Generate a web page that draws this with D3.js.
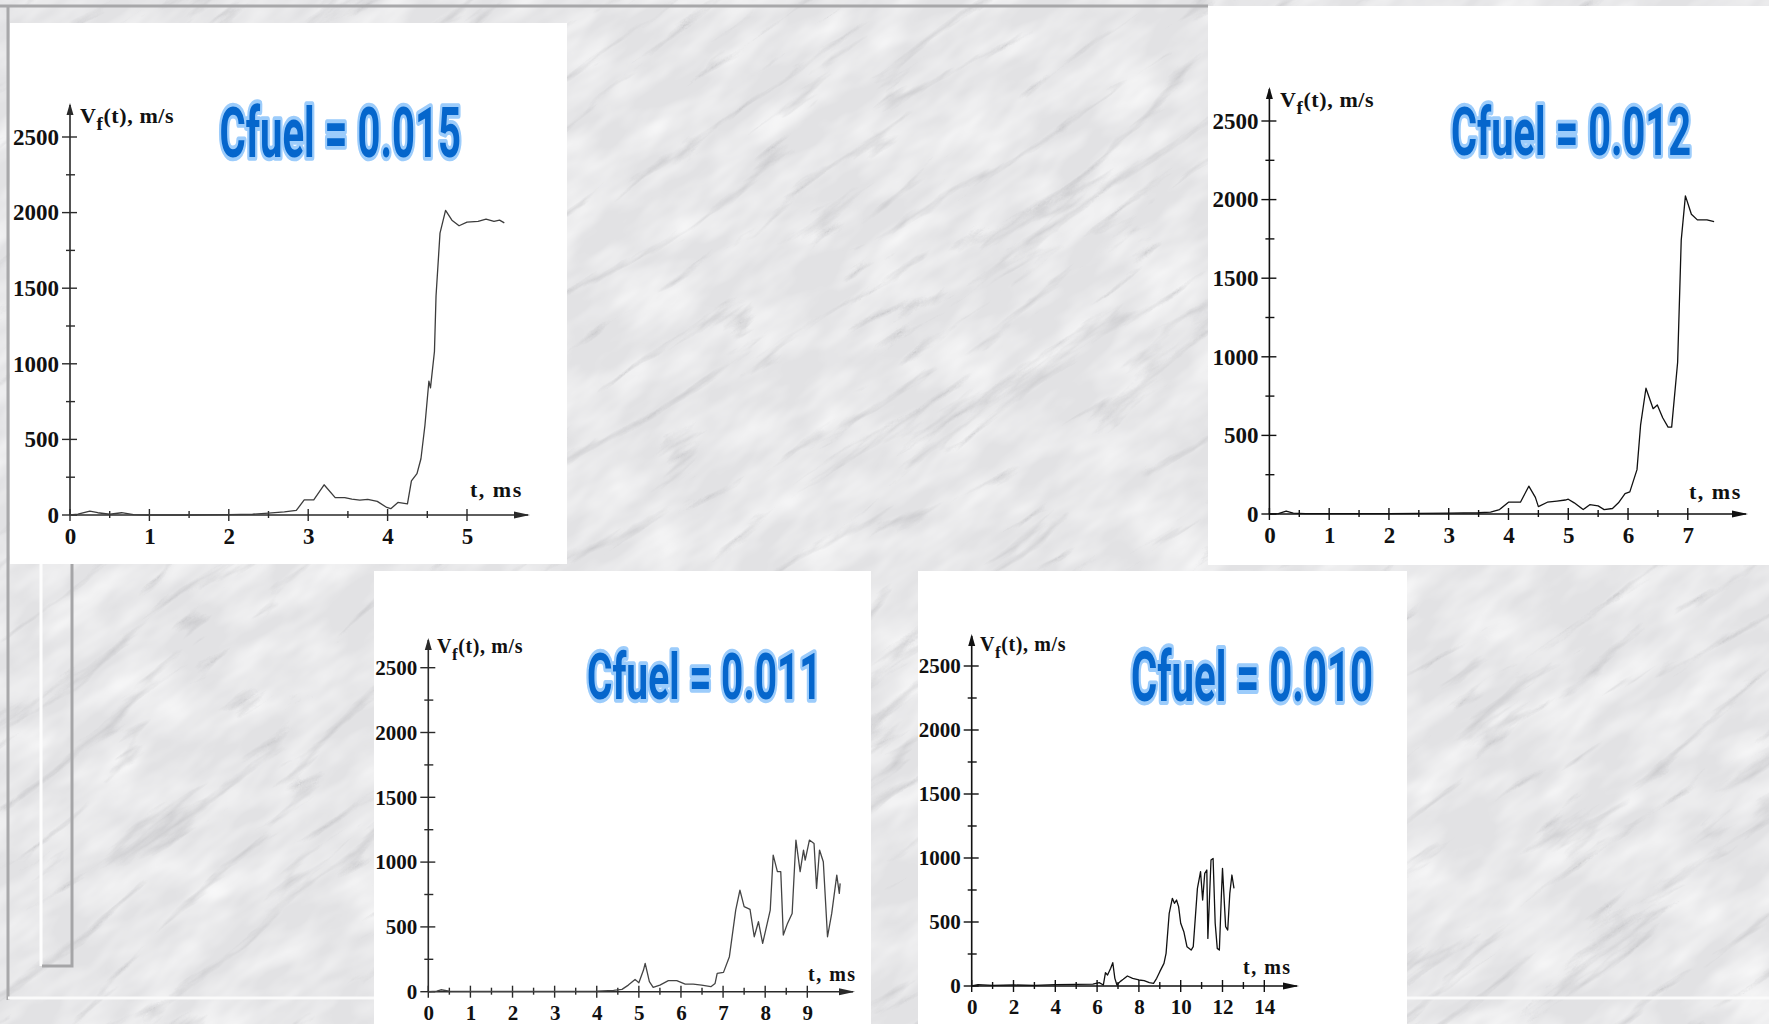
<!DOCTYPE html>
<meta charset="utf-8">
<body>
<style>
body { margin: 0; overflow: hidden; background: #e9e9eb; }
text { font-family: "Liberation Serif", "Times New Roman", serif; font-weight: bold; fill: #111; }
.title { font-family: Roboto, "Liberation Sans", sans-serif; font-weight: bold; fill: #0566cc; stroke: #9cccfb; stroke-width: 8px; stroke-linejoin: round; paint-order: stroke; }
</style>
<script src="https://d3js.org/d3.v7.min.js"></script>
<script>

// values, one pair of arrays per plot
var t015 = [0, 0.1, 0.25, 0.35, 0.5, 0.65, 0.8, 1.0, 1.5, 2.0, 2.3, 2.5, 2.7, 2.85, 2.95, 3.07, 3.2, 3.34, 3.46, 3.55, 3.65, 3.75, 3.87, 3.99, 4.04, 4.13, 4.25, 4.3, 4.37, 4.42, 4.47, 4.52, 4.54, 4.59, 4.61, 4.66, 4.73, 4.81, 4.9, 5.0, 5.14, 5.24, 5.34, 5.41, 5.47];
var v015 = [0, 5, 25, 15, 5, 15, 3, 0, 0, 2, 5, 12, 20, 30, 100, 100, 200, 115, 115, 105, 98, 103, 90, 50, 42, 83, 73, 225, 274, 372, 592, 885, 841, 1081, 1448, 1864, 2015, 1950, 1913, 1937, 1942, 1957, 1942, 1950, 1932];

var t012 = [0, 0.15, 0.28, 0.4, 0.6, 1.0, 2.0, 3.0, 3.5, 3.7, 3.85, 4.0, 4.2, 4.34, 4.45, 4.5, 4.65, 4.81, 4.95, 5.0, 5.1, 5.25, 5.36, 5.5, 5.6, 5.74, 5.84, 5.95, 6.03, 6.15, 6.21, 6.3, 6.42, 6.49, 6.58, 6.67, 6.73, 6.83, 6.89, 6.96, 7.06, 7.16, 7.32, 7.44];
var v012 = [0, 2, 19, 5, 3, 2, 3, 6, 8, 12, 28, 75, 75, 177, 106, 47, 75, 82, 89, 94, 71, 28, 59, 52, 28, 35, 71, 130, 141, 282, 565, 800, 670, 694, 612, 553, 553, 965, 1742, 2024, 1907, 1871, 1871, 1860];

var t011 = [0, 0.2, 0.3, 0.5, 1.0, 2.0, 3.0, 4.0, 4.4, 4.6, 4.75, 4.91, 5.0, 5.11, 5.15, 5.25, 5.34, 5.5, 5.7, 5.9, 6.1, 6.29, 6.49, 6.71, 6.81, 6.86, 7.01, 7.15, 7.3, 7.4, 7.5, 7.64, 7.74, 7.84, 7.94, 8.12, 8.19, 8.29, 8.37, 8.43, 8.53, 8.64, 8.73, 8.83, 8.91, 8.95, 9.05, 9.16, 9.22, 9.29, 9.38, 9.48, 9.58, 9.7, 9.76, 9.78];
var v011 = [0, 5, 15, 5, 2, 3, 3, 5, 10, 18, 51, 95, 69, 167, 219, 77, 33, 51, 85, 85, 59, 59, 51, 39, 64, 141, 149, 270, 630, 784, 656, 635, 424, 540, 373, 630, 1054, 926, 926, 437, 527, 604, 1170, 926, 1093, 1016, 1170, 1144, 797, 1093, 1003, 424, 604, 900, 759, 836];

var t010 = [0, 0.3, 1.0, 2.0, 3.0, 4.0, 5.0, 5.8, 6.1, 6.3, 6.4, 6.5, 6.65, 6.75, 6.85, 6.95, 7.1, 7.25, 7.45, 7.7, 8.0, 8.25, 8.5, 8.7, 8.85, 9.0, 9.2, 9.3, 9.45, 9.6, 9.7, 9.8, 9.9, 10.0, 10.15, 10.3, 10.5, 10.6, 10.8, 10.95, 11.05, 11.15, 11.25, 11.3, 11.45, 11.55, 11.65, 11.75, 11.85, 11.95, 12.0, 12.15, 12.25, 12.35, 12.45, 12.55];
var v010 = [0, 10, 5, 8, 5, 10, 12, 15, 26, 8, 104, 86, 138, 182, 60, 8, 34, 52, 78, 60, 47, 42, 26, 21, 60, 112, 177, 255, 568, 685, 646, 672, 620, 490, 424, 307, 281, 307, 763, 893, 672, 880, 906, 372, 984, 997, 490, 294, 281, 724, 919, 464, 437, 724, 867, 763];

// tick labels
var yTicks = [0, 500, 1000, 1500, 2000, 2500];
var xTicks015 = [0, 1, 2, 3, 4, 5];
var xTicks012 = [0, 1, 2, 3, 4, 5, 6, 7];
var xTicks011 = [0, 1, 2, 3, 4, 5, 6, 7, 8, 9];
var xTicks010 = [0, 2, 4, 6, 8, 10, 12, 14];
var titles = ["Cfuel = 0.015", "Cfuel = 0.012", "Cfuel = 0.011", "Cfuel = 0.010"];

var W = 1769, H = 1024;

var svg = d3.select("body").append("svg")
    .attr("width", W)
    .attr("height", H);

// marble-ish background
var defs = svg.append("defs");
var f = defs.append("filter").attr("id", "marble")
    .attr("filterUnits", "userSpaceOnUse")
    .attr("x", -1500).attr("y", -1500).attr("width", 5000).attr("height", 5000);
f.append("feTurbulence").attr("type", "turbulence")
    .attr("baseFrequency", "0.004 0.02").attr("numOctaves", 5).attr("seed", 11);
f.append("feColorMatrix").attr("type", "matrix")
    .attr("values", "0 0 0 0 0.45  0 0 0 0 0.45  0 0 0 0 0.47  -4 0 0 0 0.78");

var f2 = defs.append("filter").attr("id", "mottle")
    .attr("filterUnits", "userSpaceOnUse")
    .attr("x", -1500).attr("y", -1500).attr("width", 5000).attr("height", 5000);
f2.append("feTurbulence").attr("type", "fractalNoise")
    .attr("baseFrequency", "0.014 0.035").attr("numOctaves", 3).attr("seed", 4);
f2.append("feColorMatrix").attr("type", "matrix")
    .attr("values", "0 0 0 0 1  0 0 0 0 1  0 0 0 0 1  1.3 0 0 0 -0.45");

svg.append("rect").attr("width", W).attr("height", H).attr("fill", "#e2e2e4");
svg.append("g").attr("transform", "rotate(-35 884 512)")
  .append("rect").attr("x", -700).attr("y", -900).attr("width", 3200).attr("height", 2800)
    .attr("filter", "url(#mottle)");
svg.append("g").attr("transform", "rotate(-35 884 512)").attr("opacity", 0.6)
  .append("rect").attr("x", -700).attr("y", -900).attr("width", 3200).attr("height", 2800)
    .attr("filter", "url(#marble)");

// slide frame bits
svg.append("path").attr("d", "M0,6H1208M8,6V1000").attr("stroke", "#a8a8aa").attr("stroke-width", 3).attr("fill", "none");
svg.append("path").attr("d", "M8,998H380M1400,998H1769").attr("stroke", "#fafafa").attr("stroke-width", 3).attr("fill", "none");
svg.append("path").attr("d", "M41,564V966").attr("stroke", "#fdfdfd").attr("stroke-width", 3).attr("fill", "none");
svg.append("path").attr("d", "M42,966H72V564").attr("stroke", "#a5a5a7").attr("stroke-width", 3).attr("fill", "none");

var panels = [
  {t: t015, v: v015, xTicks: xTicks015, xDom: [0, 5], minor: 0.5, title: titles[0],
   box: [10, 23, 567, 564], xr: [70, 467], yr: [515, 137], top: 105, right: 528, fs: 23,
   vf: [80, 123], tms: [470, 497], tb: [215.5, 102, 465, 161], lc: "#3c3c3c", ac: "#2a2a2a"},
  {t: t012, v: v012, xTicks: xTicks012, xDom: [0, 7], minor: 0.5, title: titles[1],
   box: [1208, 6, 1769, 565], xr: [1269.4, 1687.8], yr: [514, 121], top: 89, right: 1746, fs: 23,
   vf: [1280, 107], tms: [1689, 499], tb: [1447, 101.7, 1695, 159], lc: "#111", ac: "#111"},
  {t: t011, v: v011, xTicks: xTicks011, xDom: [0, 9], minor: 0.5, title: titles[2],
   box: [374, 571, 871, 1024], xr: [428.3, 807.3], yr: [991.7, 667.7], top: 640, right: 853, fs: 21,
   vf: [437, 653], tms: [808, 981], tb: [583, 647, 825.7, 703], lc: "#444", ac: "#2a2a2a"},
  {t: t010, v: v010, xTicks: xTicks010, xDom: [0, 14], minor: 1, title: titles[3],
   box: [918, 571, 1407, 1024], xr: [971.7, 1264.3], yr: [986, 666], top: 636, right: 1297, fs: 21,
   vf: [980, 651], tms: [1243, 974], tb: [1127, 645, 1377, 705], lc: "#111", ac: "#111"}
];

panels.forEach(function(p) {
  var g = svg.append("g");
  g.append("rect")
      .attr("x", p.box[0]).attr("y", p.box[1])
      .attr("width", p.box[2] - p.box[0]).attr("height", p.box[3] - p.box[1])
      .attr("fill", "#fff");

  var x = d3.scaleLinear().domain(p.xDom).range(p.xr);
  var y = d3.scaleLinear().domain([0, 2500]).range(p.yr);
  var x0 = x(0), y0 = y(0);

  // axis lines with arrows
  g.append("path")
      .attr("d", "M" + x0 + "," + y0 + "V" + p.top + "M" + x0 + "," + y0 + "H" + p.right)
      .attr("stroke", p.ac).attr("stroke-width", 1.6).attr("fill", "none");
  g.append("path")
      .attr("d", "M" + x0 + "," + (p.top - 2) + "l-3.5,12h7z" +
                 "M" + (p.right + 2) + "," + y0 + "l-16,-3.5v7z")
      .attr("fill", p.ac);

  // y ticks (major crossing, minor shorter)
  var yMinor = d3.range(0, 2501, 250);
  g.selectAll(".yt").data(yMinor).enter().append("line")
      .attr("x1", function(d) { return x0 - (d % 500 ? 4 : 8); })
      .attr("x2", function(d) { return x0 + (d % 500 ? 5 : 7); })
      .attr("y1", function(d) { return y(d); })
      .attr("y2", function(d) { return y(d); })
      .attr("stroke", p.ac).attr("stroke-width", 1.4);

  // x ticks
  var xMinor = d3.range(p.xDom[0], p.xDom[1] + 0.5 * p.minor + 0.01, p.minor).filter(function(d) { return x(d) < p.right - 12; });
  g.selectAll(".xt").data(xMinor).enter().append("line")
      .attr("x1", function(d) { return x(d); })
      .attr("x2", function(d) { return x(d); })
      .attr("y1", function(d) { return y0 - (p.xTicks.indexOf(d) >= 0 ? 6 : 4); })
      .attr("y2", function(d) { return y0 + (p.xTicks.indexOf(d) >= 0 ? 6 : 3); })
      .attr("stroke", p.ac).attr("stroke-width", 1.4);

  // tick labels through d3 axes
  var ya = g.append("g").attr("transform", "translate(" + x0 + ",0)")
      .call(d3.axisLeft(y).tickValues(yTicks).tickSize(0).tickPadding(11).tickFormat(d3.format("d")));
  var xa = g.append("g").attr("transform", "translate(0," + y0 + ")")
      .call(d3.axisBottom(x).tickValues(p.xTicks).tickSize(0).tickPadding(13).tickFormat(d3.format("d")));
  [ya, xa].forEach(function(a) {
    a.select(".domain").remove();
    a.selectAll("text")
        .style("font-family", "'Liberation Serif', serif")
        .style("font-weight", "bold")
        .style("font-size", p.fs + "px")
        .attr("fill", "#111");
  });

  // axis captions
  var vt = g.append("text").attr("x", p.vf[0]).attr("y", p.vf[1])
      .style("font-size", (p.fs - 1) + "px").style("letter-spacing", "0.6px");
  vt.append("tspan").text("V");
  vt.append("tspan").attr("dy", 7).style("font-size", (p.fs - 4) + "px").text("f");
  vt.append("tspan").attr("dy", -7).text("(t), m/s");

  g.append("text").attr("x", p.tms[0]).attr("y", p.tms[1])
      .style("font-size", (p.fs - 1) + "px").style("letter-spacing", "1.5px")
      .text("t, ms");

  // velocity trace
  var line = d3.line()
      .x(function(d) { return x(d[0]); })
      .y(function(d) { return y(d[1]); });
  g.append("path")
      .datum(d3.zip(p.t, p.v))
      .attr("d", line)
      .attr("fill", "none")
      .attr("stroke", p.lc)
      .attr("stroke-width", 1.3)
      .attr("stroke-linejoin", "round");

  // big blue title, squeezed horizontally to the condensed look
  var tb = p.tb, th = tb[3] - tb[1];
  var tt = g.append("text").attr("class", "title")
      .attr("x", 0).attr("y", 0)
      .style("font-size", ((th - 8) / 0.73) + "px")
      .text(p.title);
  var nat = tt.node().getComputedTextLength();
  var sx = (tb[2] - tb[0] - 8) / nat;
  tt.attr("transform", "translate(" + (tb[0] + 4) + "," + (tb[3] - 4) + ") scale(" + sx + ",1)")
    .style("stroke-width", (8 / sx) * 0.55 + "px");
});

</script>
</body>
</html>
